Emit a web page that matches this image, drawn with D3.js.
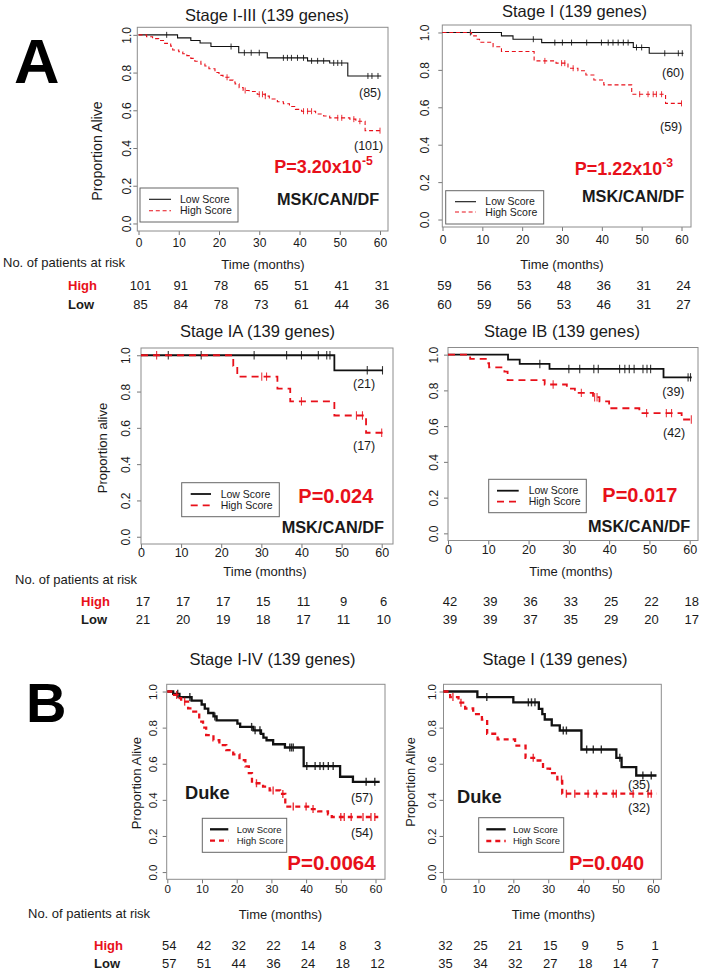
<!DOCTYPE html>
<html><head><meta charset="utf-8">
<script src="https://cdn.jsdelivr.net/npm/d3@7"></script>
<style>body{margin:0;background:#fff}svg{display:block}</style>
</head><body><svg id="c" width="706" height="973"></svg>
<script>
// ---------------- DATA ----------------
const timeTicks = [0, 10, 20, 30, 40, 50, 60];
const survTicks = [0, 0.2, 0.4, 0.6, 0.8, 1.0];
const groupNames = ["Low Score", "High Score"];

// Panel A1: Stage I-III  (steps: [time, survival after drop])
const a1LowSteps = [[9.7,0.984],[13,0.970],[15.3,0.957],[18,0.938],[24.9,0.905],[32,0.878],[42,0.862],[47.5,0.851],[52,0.782]];
const a1LowCens = [7,23,26.3,28,30,36,37,38,39.5,41,43,44.5,46,48.5,49.5,50.5,57,58,59.5];
const a1HighSteps = [[2,0.99],[3.5,0.98],[5,0.97],[6.5,0.955],[8,0.94],[8.5,0.92],[10,0.91],[11,0.90],[12,0.89],[13,0.875],[14,0.86],[15.5,0.845],[16.5,0.835],[17.5,0.82],[19,0.80],[20,0.785],[21,0.775],[22.5,0.76],[23.5,0.75],[24,0.74],[25,0.72],[26,0.705],[27.5,0.70],[29,0.695],[29.5,0.685],[31.5,0.675],[32.5,0.66],[34.5,0.645],[36,0.635],[37.5,0.62],[39,0.605],[40.5,0.595],[44,0.58],[46,0.57],[47.5,0.56],[52.5,0.553],[54,0.542],[56.3,0.492]];
const a1HighCens = [22,26.5,30,30.8,31.5,41,42,43,49.5,50.5,53.5,55,60];
const a1RiskHigh = [101, 91, 78, 65, 51, 41, 31];
const a1RiskLow = [85, 84, 78, 73, 61, 44, 36];

// Panel A2: Stage I
const a2LowSteps = [[14.8,0.982],[17.7,0.964],[24.9,0.946],[47.9,0.92],[51.9,0.889]];
const a2LowCens = [7,22.8,28.2,30.1,32.4,36.2,39.9,41.6,42.8,44.1,45.4,46.6,48.7,50,55.8,59.2,60.2];
const a2HighSteps = [[7.3,0.982],[8.5,0.964],[9.3,0.948],[12.7,0.924],[14.8,0.898],[23,0.848],[28.5,0.836],[31.5,0.809],[34,0.795],[36,0.773],[38,0.746],[40.5,0.72],[47.5,0.67],[56,0.621]];
const a2HighCens = [25.7,29.9,30.7,32.8,49.5,51.6,52.9,53.7,55,60];
const a2RiskHigh = [59, 56, 53, 48, 36, 31, 24];
const a2RiskLow = [60, 59, 56, 53, 46, 31, 27];

// Panel A3: Stage IA
const a3LowSteps = [[48.2,0.917]];
const a3LowCens = [6.8,15,28.2,36.3,40,44.2,46.3,47.1,56.4,60.2];
const a3HighSteps = [[23,0.941],[24,0.882],[34,0.816],[37.2,0.746],[48.2,0.668],[56.1,0.573]];
const a3HighCens = [3.9,30.1,31.3,40,53.7,55.2,60];
const a3RiskHigh = [17, 17, 17, 15, 11, 9, 6];
const a3RiskLow = [21, 20, 19, 18, 17, 11, 10];

// Panel A4: Stage IB
const a4LowSteps = [[14.9,0.972],[17.8,0.948],[25.2,0.92],[53.5,0.873]];
const a4LowCens = [22.8,30,32.7,36.2,37.3,42.6,43.9,45,46.2,48.4,49.4,50.3,59.6,60.2];
const a4HighSteps = [[5.5,0.976],[9.7,0.952],[10.2,0.929],[14,0.905],[14.8,0.857],[24,0.833],[29.5,0.81],[31.5,0.786],[36,0.762],[37.6,0.738],[40,0.70],[47.5,0.673],[58,0.637]];
const a4HighCens = [26.1,33.1,36.4,37,49.3,54.2,55.5,60.4];
const a4RiskHigh = [42, 39, 36, 33, 25, 22, 18];
const a4RiskLow = [39, 39, 37, 35, 29, 20, 17];

// Panel B1: Stage I-IV (Duke)
const b1LowSteps = [[1.7,0.987],[3.5,0.969],[7,0.95],[9.9,0.928],[10.8,0.905],[11.8,0.881],[13.3,0.862],[14.2,0.84],[20.2,0.822],[21,0.804],[24.8,0.785],[27,0.765],[27.7,0.745],[28.6,0.73],[30.5,0.708],[33.9,0.69],[39.3,0.587],[49.8,0.528],[53.5,0.50]];
const b1LowCens = [3,6.5,13.7,24.3,25.3,26.7,35.3,35.8,36.3,40.2,42.6,44,45,46.4,47.8,57.3,59.8];
const b1HighSteps = [[1.5,0.981],[3,0.963],[4,0.944],[6,0.907],[7.5,0.889],[9.2,0.833],[10.3,0.80],[11.2,0.759],[13.3,0.73],[15,0.703],[17,0.675],[19,0.652],[20.8,0.62],[22.5,0.585],[23.5,0.548],[24.4,0.492],[27.6,0.473],[29.5,0.452],[32.5,0.433],[34,0.363],[41,0.349],[43.5,0.336],[46.3,0.32],[47.4,0.305]];
const b1HighCens = [2.7,5,25.7,30.5,33.3,36.3,40,42,50,51,53,56.4,58.7,59.8];
const b1RiskHigh = [54, 42, 32, 22, 14, 8, 3];
const b1RiskLow = [57, 51, 44, 36, 24, 18, 12];

// Panel B2: Stage I (Duke)
const b2LowSteps = [[9.7,0.969],[20,0.94],[27.3,0.904],[28.3,0.875],[29,0.845],[31,0.812],[33.3,0.784],[39.5,0.679],[49.5,0.633],[51,0.581],[55.2,0.535]];
const b2LowCens = [12.4,24.3,25.2,26.2,34.3,35.2,41,42.9,45.2,50.5,57.1,59.5];
const b2HighSteps = [[1.9,0.969],[4.3,0.938],[6.2,0.906],[8.5,0.875],[11,0.844],[12.5,0.766],[15.5,0.735],[20.5,0.70],[23.5,0.633],[26.5,0.618],[28.5,0.573],[30.5,0.548],[32.6,0.513],[34,0.434]];
const b2HighCens = [2.7,5,25.7,33.8,35.2,37.6,41.4,43.8,48.6,49.5,54.3,58.6,59.5];
const b2RiskHigh = [32, 25, 21, 15, 9, 5, 1];
const b2RiskLow = [35, 34, 32, 27, 18, 14, 7];

// ---------------- STYLE / LAYOUT ----------------
const RED = "#e8101a";
const INK = "#1a1a1a";
const FONT = "'Liberation Sans', Arial, Helvetica, sans-serif";
const svg = d3.select("#c").style("font-family", FONT);

const panels = [
  {low:a1LowSteps, lowC:a1LowCens, lowEnd:60.3, high:a1HighSteps, highC:a1HighCens, highEnd:60.2,
   boxL:137.3, boxR:388, top:27.3, bottom:231, x0:138.5, x60:380, yLabX:126.5, yLabFs:12, xLabBase:247, xLabFs:12,
   title:"Stage I-III (139 genes)", tX:267, tY:20.7, yTitle:"Proportion Alive", ytX:97, ytY:151, ytFs:14.2,
   lw:1.1, dash:"4,2.8", cens:3,
   leg:{x1:140,x2:238,y1:188,y2:222,l1:149,l2:171,r1:199.3,r2:210.7,tx:180,fs:10.5},
   notes:[{t:"(85)",x:359,y:96.7,fs:12.5},{t:"(101)",x:354,y:150,fs:12.5},
          {t:"P=3.20x10",sup:"-5",x:274.3,y:172.7,fs:18,bold:true,red:true},
          {t:"MSK/CAN/DF",x:277,y:205,fs:16.3,bold:true}]},
  {low:a2LowSteps, lowC:a2LowCens, lowEnd:60.5, high:a2HighSteps, highC:a2HighCens, highEnd:60.3,
   boxL:442.3, boxR:691, top:25, bottom:227, x0:442.5, x60:681.5, yLabX:424.5, yLabFs:12, xLabBase:244, xLabFs:12,
   title:"Stage I (139 genes)", tX:574.5, tY:17.3, yTitle:null,
   lw:1.1, dash:"4,2.8", cens:3,
   leg:{x1:445.7,x2:543.7,y1:190.7,y2:224,l1:455,l2:476,r1:201.7,r2:212,tx:485.3,fs:10.5},
   notes:[{t:"(60)",x:662,y:77.3,fs:12.5},{t:"(59)",x:660,y:130.7,fs:12.5},
          {t:"P=1.22x10",sup:"-3",x:574.7,y:175,fs:18,bold:true,red:true},
          {t:"MSK/CAN/DF",x:582,y:201.7,fs:16.3,bold:true}]},
  {low:a3LowSteps, lowC:a3LowCens, lowEnd:60.3, high:a3HighSteps, highC:a3HighCens, highEnd:61,
   boxL:141, boxR:393, top:348, bottom:544, x0:141, x60:381.7, yLabX:126, yLabFs:12, xLabBase:556.5, xLabFs:12.5,
   title:"Stage IA (139 genes)", tX:257.5, tY:336.7, yTitle:"Proportion alive", ytX:102, ytY:448, ytFs:13,
   lw:1.8, dash:"7,5", cens:4.2,
   leg:{x1:181.7,x2:279.3,y1:482.7,y2:516.7,l1:190.7,l2:211,r1:494,r2:505.3,tx:220.7,fs:10.5},
   notes:[{t:"(21)",x:353,y:388.3,fs:12.5},{t:"(17)",x:353,y:450,fs:12.5},
          {t:"P=0.024",x:298.3,y:502.7,fs:20,bold:true,red:true},
          {t:"MSK/CAN/DF",x:281.7,y:533.3,fs:16.3,bold:true}]},
  {low:a4LowSteps, lowC:a4LowCens, lowEnd:60.5, high:a4HighSteps, highC:a4HighCens, highEnd:61,
   boxL:448, boxR:698, top:347.5, bottom:540.5, x0:448, x60:689.7, yLabX:434, yLabFs:12, xLabBase:554, xLabFs:12.5,
   title:"Stage IB (139 genes)", tX:562, tY:337, yTitle:null,
   lw:1.8, dash:"7,5", cens:4.2,
   leg:{x1:488.7,x2:586.3,y1:479.3,y2:512.7,l1:497,l2:518.7,r1:490.7,r2:501.7,tx:528.7,fs:10.5},
   notes:[{t:"(39)",x:662.3,y:396,fs:12.5},{t:"(42)",x:663,y:436.7,fs:12.5},
          {t:"P=0.017",x:602.3,y:501.7,fs:20,bold:true,red:true},
          {t:"MSK/CAN/DF",x:588,y:531.7,fs:16.3,bold:true}]},
  {low:b1LowSteps, lowC:b1LowCens, lowEnd:61.2, high:b1HighSteps, highC:b1HighCens, highEnd:60.8,
   boxL:166.7, boxR:385, top:684.3, bottom:879.3, x0:167.3, x60:375.5, yLabX:153, yLabFs:11.5, xLabBase:893, xLabFs:11.5,
   title:"Stage I-IV (139 genes)", tX:272.5, tY:665, yTitle:"Proportion Alive", ytX:136, ytY:783, ytFs:13.2,
   lw:2.3, dash:"5,4", cens:4,
   leg:{x1:202.3,x2:286.7,y1:818.3,y2:852.3,l1:210,l2:228.3,r1:829.3,r2:840.7,tx:236.7,fs:9.5},
   notes:[{t:"(57)",x:351,y:801.7,fs:12.5},{t:"(54)",x:351,y:836.7,fs:12.5},
          {t:"Duke",x:185,y:799.3,fs:18.3,bold:true},
          {t:"P=0.0064",x:287.3,y:870,fs:20.5,bold:true,red:true}]},
  {low:b2LowSteps, lowC:b2LowCens, lowEnd:61, high:b2HighSteps, highC:b2HighCens, highEnd:61,
   boxL:443.5, boxR:661.3, top:684.3, bottom:879.3, x0:443.5, x60:653, yLabX:431.5, yLabFs:11.5, xLabBase:893, xLabFs:11.5,
   title:"Stage I (139 genes)", tX:555, tY:665, yTitle:"Proportion Alive", ytX:411, ytY:782, ytFs:12.8,
   lw:2.3, dash:"5,4", cens:4,
   leg:{x1:478.7,x2:563.7,y1:817.7,y2:852.3,l1:486.3,l2:505.7,r1:829.3,r2:841,tx:513,fs:9.5},
   notes:[{t:"(35)",x:628,y:789,fs:12.5},{t:"(32)",x:628,y:811.7,fs:12.5},
          {t:"Duke",x:457,y:802.7,fs:18.3,bold:true},
          {t:"P=0.040",x:569,y:870,fs:20,bold:true,red:true}]}
];

// at-risk tables: rows of panels
const riskRows = [
  {panels:[0,1], hi:[a1RiskHigh,a2RiskHigh], lo:[a1RiskLow,a2RiskLow], labX:3, labY:267, timeY:268.7, timeX:[263,562], nameX:68, hiY:290, loY:309},
  {panels:[2,3], hi:[a3RiskHigh,a4RiskHigh], lo:[a3RiskLow,a4RiskLow], labX:15, labY:584, timeY:576, timeX:[265,571], nameX:81, hiY:605.5, loY:623.5},
  {panels:[4,5], hi:[b1RiskHigh,b2RiskHigh], lo:[b1RiskLow,b2RiskLow], labX:28, labY:918.3, timeY:919, timeX:[280.5,553.5], nameX:94, hiY:950, loY:968}
];

function stepAt(steps, t){ let s = 1; for (const [tt, v] of steps){ if (tt <= t) s = v; else break; } return s; }

const scales = [];
panels.forEach((p, i) => {
  const x = d3.scaleLinear().domain([0, 60]).range([p.x0, p.x60]);
  const y = d3.scaleLinear().domain([-0.04, 1.04]).range([p.bottom, p.top]);
  scales[i] = x;
  const g = svg.append("g");

  // title
  g.append("text").attr("x", p.tX).attr("y", p.tY).attr("text-anchor","middle")
    .attr("font-size", 16.5).attr("fill", INK).text(p.title);

  // x axis
  const xa = g.append("g").attr("transform", `translate(0,${p.bottom})`)
    .call(d3.axisBottom(x).tickValues(timeTicks).tickSize(4).tickSizeOuter(0));
  xa.select(".domain").remove();
  xa.selectAll("line").attr("stroke", "#777");
  xa.selectAll("text").attr("y", p.xLabBase - p.bottom).attr("dy", 0)
    .attr("font-size", p.xLabFs).attr("font-family", FONT).attr("fill", INK);

  // y axis
  const ya = g.append("g").attr("transform", `translate(${p.boxL},0)`)
    .call(d3.axisLeft(y).tickValues(survTicks).tickFormat(d3.format(".1f")).tickSize(4).tickSizeOuter(0));
  ya.select(".domain").remove();
  ya.selectAll("line").attr("stroke", "#777");
  const baseOff = (p.boxL - p.yLabX) - 0.358 * p.yLabFs;
  ya.selectAll("text").attr("x", 0).attr("y", -baseOff).attr("dy", 0)
    .attr("text-anchor", "middle").attr("transform", "rotate(-90)")
    .attr("font-size", p.yLabFs).attr("font-family", FONT).attr("fill", INK);

  // box
  g.append("rect").attr("x", p.boxL).attr("y", p.top).attr("width", p.boxR - p.boxL)
    .attr("height", p.bottom - p.top).attr("fill", "none").attr("stroke", "#8c8c8c").attr("stroke-width", 1);

  if (p.yTitle) {
    g.append("text").attr("transform", `translate(${p.ytX},${p.ytY}) rotate(-90)`)
      .attr("text-anchor", "middle").attr("dy", "0.35em").attr("font-size", p.ytFs).attr("fill", INK).text(p.yTitle);
  }

  // curves
  const line = d3.line().x(d => x(d[0])).y(d => y(d[1])).curve(d3.curveStepAfter);
  const curves = [
    {steps:p.low, cens:p.lowC, end:p.lowEnd, color:"#111", dash:null},
    {steps:p.high, cens:p.highC, end:p.highEnd, color:RED, dash:p.dash}
  ];
  curves.forEach(c => {
    const pts = [[0, 1]].concat(c.steps);
    pts.push([c.end, c.steps[c.steps.length - 1][1]]);
    g.append("path").datum(pts).attr("d", line).attr("fill", "none")
      .attr("stroke", c.color).attr("stroke-width", p.lw)
      .attr("stroke-dasharray", c.dash);
    g.selectAll(null).data(c.cens).join("line")
      .attr("x1", d => x(d)).attr("x2", d => x(d))
      .attr("y1", d => y(stepAt(c.steps, d)) - p.cens).attr("y2", d => y(stepAt(c.steps, d)) + p.cens)
      .attr("stroke", c.color).attr("stroke-width", Math.max(1, p.lw * 0.6)).attr("opacity", 0.85);
  });

  // legend
  const L = p.leg;
  g.append("rect").attr("x", L.x1).attr("y", L.y1).attr("width", L.x2 - L.x1).attr("height", L.y2 - L.y1)
    .attr("fill", "#fff").attr("stroke", "#666").attr("stroke-width", 1);
  [[L.r1, "#111", null, groupNames[0]], [L.r2, RED, p.dash, groupNames[1]]].forEach(([ry, col, da, name]) => {
    g.append("line").attr("x1", L.l1).attr("x2", L.l2).attr("y1", ry).attr("y2", ry)
      .attr("stroke", col).attr("stroke-width", p.lw).attr("stroke-dasharray", da);
    g.append("text").attr("x", L.tx).attr("y", ry + 0.36 * L.fs).attr("font-size", L.fs).attr("fill", INK).text(name);
  });

  // notes
  p.notes.forEach(n => {
    const t = g.append("text").attr("x", n.x).attr("y", n.y).attr("font-size", n.fs)
      .attr("font-weight", n.bold ? "bold" : "normal").attr("fill", n.red ? RED : INK).text(n.t);
    if (n.sup) {
      t.append("tspan").attr("dy", -n.fs * 0.45).attr("font-size", n.fs * 0.68).text(n.sup);
    }
  });
});

// at-risk tables
riskRows.forEach(r => {
  svg.append("text").attr("x", r.labX).attr("y", r.labY).attr("font-size", 13).attr("fill", INK)
    .text("No. of patients at risk");
  svg.append("text").attr("x", r.nameX).attr("y", r.hiY).attr("font-size", 13).attr("font-weight", "bold")
    .attr("fill", RED).text("High");
  svg.append("text").attr("x", r.nameX).attr("y", r.loY).attr("font-size", 13).attr("font-weight", "bold")
    .attr("fill", INK).text("Low");
  r.panels.forEach((pi, k) => {
    const x = scales[pi];
    svg.append("text").attr("x", r.timeX[k]).attr("y", r.timeY).attr("text-anchor", "middle")
      .attr("font-size", 13).attr("fill", INK).text("Time (months)");
    svg.selectAll(null).data(r.hi[k]).join("text")
      .attr("x", (d, j) => x(timeTicks[j]) + 2).attr("y", r.hiY).attr("text-anchor", "middle")
      .attr("font-size", 13).attr("fill", INK).text(d => d);
    svg.selectAll(null).data(r.lo[k]).join("text")
      .attr("x", (d, j) => x(timeTicks[j]) + 2).attr("y", r.loY).attr("text-anchor", "middle")
      .attr("font-size", 13).attr("fill", INK).text(d => d);
  });
});

// panel letters
svg.append("text").attr("x", 14).attr("y", 83).attr("font-size", 63).attr("font-weight", "bold").attr("fill", "#000").text("A");
svg.append("text").attr("x", 26).attr("y", 722).attr("font-size", 56).attr("font-weight", "bold").attr("fill", "#000").text("B");
</script>
</body></html>
